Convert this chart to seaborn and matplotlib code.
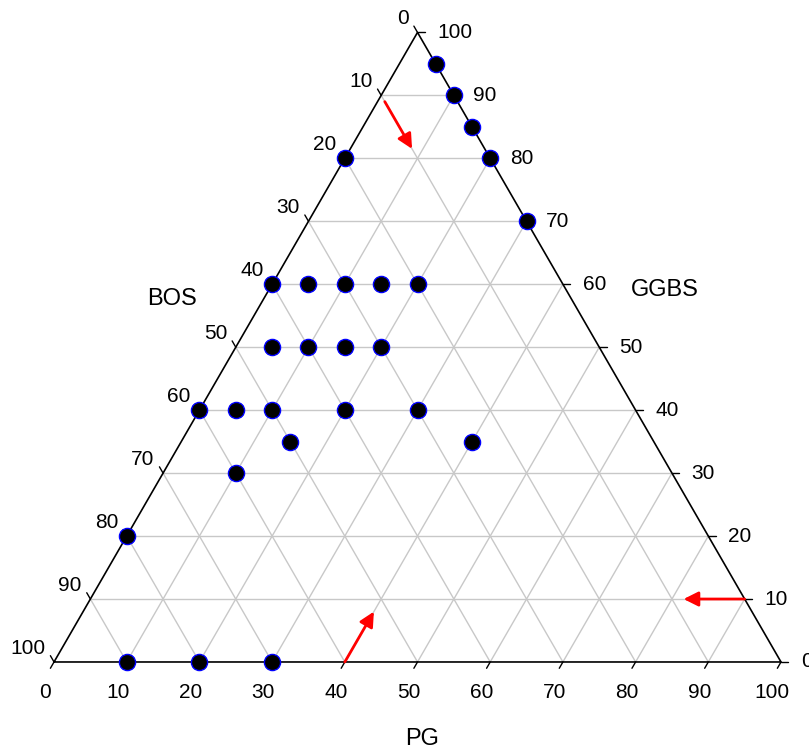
import numpy as np
import pandas as pd
import matplotlib
matplotlib.use("Agg")
import matplotlib.pyplot as plt
import seaborn as sns

# ---- data (ternary composition, %) ----
PG = [10, 20, 30, 0, 0, 0, 0, 5, 10, 15, 20, 30,
      5, 10, 15, 20, 5, 10, 15, 20, 5, 10, 20, 30, 15, 40, 10]
GGBS = [0, 0, 0, 20, 40, 60, 80, 95, 90, 85, 80, 70,
        60, 60, 60, 60, 50, 50, 50, 50, 40, 40, 40, 40, 35, 35, 30]
BOS = [100 - p - g for p, g in zip(PG, GGBS)]
tick_values = [0, 10, 20, 30, 40, 50, 60, 70, 80, 90, 100]
axis_names = ["PG", "GGBS", "BOS"]

sns.set_theme(style="white")
plt.rcParams['font.family'] = ['Liberation Sans', 'DejaVu Sans']
plt.rcParams['text.color'] = 'black'

H = np.sqrt(3) / 2


def to_xy(pg, ggbs):
    pg = np.asarray(pg, float)
    ggbs = np.asarray(ggbs, float)
    return pg + ggbs / 2, ggbs * H


df = pd.DataFrame({"PG": PG, "GGBS": GGBS, "BOS": BOS})
df["x"], df["y"] = to_xy(df["PG"], df["GGBS"])

fig = plt.figure(figsize=(8.09, 7.49), dpi=100)
ax = fig.add_axes([0, 0, 1, 1])
ax.set_xlim(-7.43, 103.85)
ax.set_ylim(-11.97, 91.06)
ax.set_aspect("equal")
ax.axis("off")

grid_c = "#c8c8c8"
# grid lines
for v in tick_values[1:-1]:
    # constant GGBS (horizontal)
    x0, y0 = to_xy(0, v)
    x1, y1 = to_xy(100 - v, v)
    ax.plot([x0, x1], [y0, y1], color=grid_c, lw=1, zorder=1)
    # constant PG
    x0, y0 = to_xy(v, 0)
    x1, y1 = to_xy(v, 100 - v)
    ax.plot([x0, x1], [y0, y1], color=grid_c, lw=1, zorder=1)
    # constant BOS: PG+GGBS = 100-v
    x0, y0 = to_xy(100 - v, 0)
    x1, y1 = to_xy(0, 100 - v)
    ax.plot([x0, x1], [y0, y1], color=grid_c, lw=1, zorder=1)

# triangle border
tx, ty = to_xy([0, 100, 0, 0], [0, 0, 100, 0])
ax.plot(tx, ty, color="black", lw=1.2, zorder=2)

tl = 1.0
fs_tick = 15
for v in tick_values:
    # PG ticks on bottom, direction down-left
    x, y = to_xy(v, 0)
    ax.plot([x, x - 0.5 * tl], [y, y - H * tl], color="black", lw=1, zorder=2)
    ax.text(x - 1.2, y - 4.2, str(v), ha="center", va="center", fontsize=fs_tick, color="black")
    # GGBS ticks on right side, direction right
    x, y = to_xy(100 - v, v)
    ax.plot([x, x + tl], [y, y], color="black", lw=1, zorder=2)
    ax.text(x + 2.7, y, str(v), ha="left", va="center", fontsize=fs_tick, color="black")
    # BOS ticks on left side, direction up-left
    x, y = to_xy(0, 100 - v)
    ax.plot([x, x - 0.5 * tl], [y, y + H * tl], color="black", lw=1, zorder=2)
    ax.text(x - 1.2, y + 1.9, str(v), ha="right", va="center", fontsize=fs_tick, color="black")

# axis titles
ax.text(50.6, -10.6, axis_names[0], ha="center", va="center", fontsize=17, color="black")
ax.text(84.0, 51.2, axis_names[1], ha="center", va="center", fontsize=17, color="black")
ax.text(16.2, 49.9, axis_names[2], ha="center", va="center", fontsize=17, color="black")

# direction arrows
arrow_kw = dict(arrowstyle="-|>", color="red", lw=2, mutation_scale=22,
                shrinkA=0, shrinkB=0)
# PG: from PG=40 along constant PG line
sx, sy = to_xy(40, 0)
ax.annotate("", xy=(sx + 0.5 * 8.0, sy + H * 8.0), xytext=(sx, sy), arrowprops=arrow_kw, zorder=4)
# GGBS: from GGBS=10 leftwards
sx, sy = to_xy(90, 10)
ax.annotate("", xy=(sx - 8.4, sy), xytext=(sx, sy), arrowprops=arrow_kw, zorder=4)
# BOS: from BOS=10 along constant BOS line
sx, sy = to_xy(0, 90)
ax.annotate("", xy=(sx + 0.5 * 8.5, sy - H * 8.5), xytext=(sx + 0.5 * 1.0, sy - H * 1.0),
            arrowprops=arrow_kw, zorder=4)

sns.scatterplot(data=df, x="x", y="y", ax=ax, s=135, color="black",
                edgecolor="blue", linewidth=1.0, zorder=5, legend=False)
ax.set_xlim(-7.43, 103.85)
ax.set_ylim(-11.97, 91.06)
ax.axis("off")

fig.savefig("out.png", dpi=100)
